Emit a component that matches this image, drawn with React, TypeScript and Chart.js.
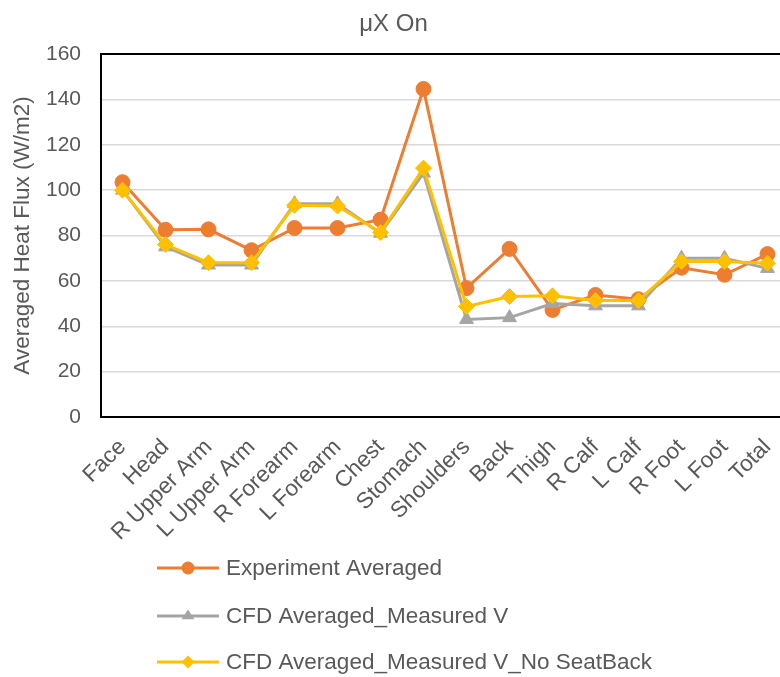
import React, { useEffect, useRef } from "react";
import { Chart, registerables } from "chart.js";

Chart.register(...registerables);

const categories = [
  "Face", "Head", "R Upper Arm", "L Upper Arm", "R Forearm", "L Forearm", "Chest", "Stomach",
  "Shoulders", "Back", "Thigh", "R Calf", "L Calf", "R Foot", "L Foot", "Total",
];
const experimentAveraged = [103.5, 82.5, 82.7, 73.5, 83.3, 83.3, 87, 144.6, 56.8, 74.1, 47.2, 53.8, 51.9, 65.8, 62.7, 71.8];
const cfdMeasuredV = [100, 75, 67, 67, 94, 94, 81, 107.5, 43, 43.8, 50, 49, 49, 70, 70, 65.5];
const cfdNoSeatBack = [100, 76, 68, 68, 93.3, 93, 81.3, 109.7, 48.7, 53.1, 53.4, 51.3, 51.3, 68.5, 68.5, 67.8];
const seriesNames = ["Experiment Averaged", "CFD Averaged_Measured V", "CFD Averaged_Measured V_No SeatBack"];
const seriesColors = ["#ED7D31", "#A5A5A5", "#FFC000"];
const seriesMarkers = ["circle", "triangle", "rectRot"];

const FONT = "'Liberation Sans', Arial, sans-serif";
const TEXT = "#595959";

function drawMarker(ctx: CanvasRenderingContext2D, style: string, x: number, y: number, r: number) {
  ctx.beginPath();
  if (style === "circle") {
    ctx.arc(x, y, r, 0, Math.PI * 2);
  } else if (style === "triangle") {
    const h = r * 1.5;
    ctx.moveTo(x, y - h * 0.66);
    ctx.lineTo(x + r, y + h * 0.34);
    ctx.lineTo(x - r, y + h * 0.34);
    ctx.closePath();
  } else {
    ctx.moveTo(x, y - r);
    ctx.lineTo(x + r, y);
    ctx.lineTo(x, y + r);
    ctx.lineTo(x - r, y);
    ctx.closePath();
  }
  ctx.fill();
}

const boxAndLegend = {
  id: "boxAndLegend",
  beforeDatasetsDraw(chart: any) {
    const { ctx, chartArea } = chart;
    ctx.save();
    ctx.strokeStyle = "#000000";
    ctx.lineWidth = 2;
    ctx.strokeRect(chartArea.left, chartArea.top, chartArea.right - chartArea.left, chartArea.bottom - chartArea.top);
    ctx.restore();
  },
  afterDraw(chart: any) {
    const { ctx } = chart;
    ctx.save();
    const rows = [568, 616, 662];
    seriesNames.forEach((name, i) => {
      const y = rows[i];
      ctx.strokeStyle = seriesColors[i];
      ctx.fillStyle = seriesColors[i];
      ctx.lineWidth = 3;
      ctx.beginPath();
      ctx.moveTo(166, y);
      ctx.lineTo(228, y);
      ctx.stroke();
      drawMarker(ctx, seriesMarkers[i], 197, y, 6.5);
      ctx.fillStyle = TEXT;
      ctx.font = `22.5px ${FONT}`;
      ctx.textBaseline = "middle";
      ctx.textAlign = "left";
      ctx.fillText(name, 235, y + 1);
    });
    ctx.restore();
  },
};

export default function App() {
  const ref = useRef<HTMLCanvasElement>(null);
  useEffect(() => {
    if (!ref.current) return;
    const data = [experimentAveraged, cfdMeasuredV, cfdNoSeatBack];
    const chart = new Chart(ref.current, {
      type: "line",
      data: {
        labels: categories,
        datasets: data.map((d, i) => ({
          label: seriesNames[i],
          data: d,
          borderColor: seriesColors[i],
          backgroundColor: seriesColors[i],
          borderWidth: 3,
          pointStyle: seriesMarkers[i] as any,
          pointRadius: i === 0 ? 7.5 : 8,
          pointBorderWidth: 1,
          pointBorderColor: seriesColors[i],
          pointBackgroundColor: seriesColors[i],
          tension: 0,
          order: 2 - i,
        })),
      },
      options: {
        responsive: false,
        animation: false,
        layout: { padding: { left: 0, right: 2, top: 0, bottom: 0 } },
        plugins: {
          legend: { display: false },
          tooltip: { enabled: false },
          title: {
            display: true,
            text: "μX On",
            color: TEXT,
            font: { family: FONT, size: 24, weight: "normal" },
            padding: { top: 10, bottom: 15.2 },
          },
        },
        scales: {
          x: {
            offset: true,
            grid: { display: false, drawTicks: false },
            border: { display: false },
            ticks: {
              color: TEXT,
              font: { family: FONT, size: 22.5 },
              minRotation: 45,
              maxRotation: 45,
              padding: 17,
              labelOffset: 0,
              autoSkip: false,
            },
            afterFit: (s: any) => {
              s.height = 260;
              s.paddingLeft = 0;
              s.paddingRight = 0;
            },
          },
          y: {
            min: 0,
            max: 160,
            grid: { color: "#D9D9D9", lineWidth: 1.5, drawTicks: false },
            border: { display: false },
            ticks: { stepSize: 20, color: TEXT, font: { family: FONT, size: 21 }, padding: 20 },
            title: {
              display: true,
              text: "Averaged Heat Flux (W/m2)",
              color: TEXT,
              font: { family: FONT, size: 22.5 },
              padding: { top: 18.5, bottom: 0 },
            },
            afterFit: (s: any) => { s.width = 110; },
          },
        },
      },
      plugins: [boxAndLegend],
    });
    return () => chart.destroy();
  }, []);
  return (
    <div style={{ position: "fixed", left: 0, top: 0, width: 780, height: 677, overflow: "hidden", background: "#fff" }}>
      <div style={{ position: "absolute", left: -9, top: 0, width: 807, height: 677 }}>
        <canvas ref={ref} width={807} height={677} />
      </div>
    </div>
  );
}
